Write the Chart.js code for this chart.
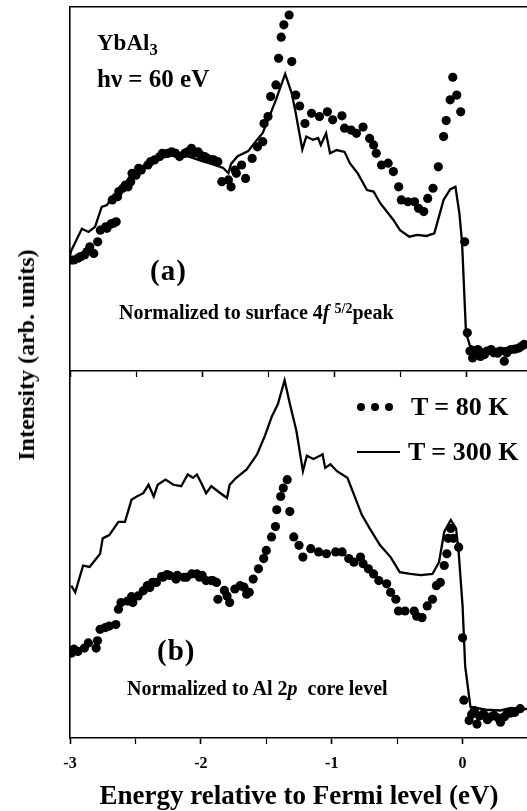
<!DOCTYPE html>
<html>
<head>
<meta charset="utf-8">
<script src="https://cdn.jsdelivr.net/npm/chart.js"></script>
<style>
  html, body { margin: 0; padding: 0; background: #fff; overflow: hidden; }
  body { width: 527px; height: 811px; position: relative;
         font-family: "Liberation Serif", "Times New Roman", serif; font-weight: bold; color: #000; }
  canvas { position: absolute; left: 0; }
  #chartA { top: 0; z-index: 2; }
  #chartB { top: 366px; z-index: 1; }
  .lbl { position: absolute; white-space: nowrap; z-index: 3; line-height: 1; }
  .dot { position: absolute; width: 8px; height: 8px; border-radius: 50%; background: #000; z-index: 3; }
</style>
</head>
<body>
<canvas id="chartA" width="540" height="380"></canvas>
<canvas id="chartB" width="540" height="445"></canvas>

<div class="lbl" style="left:97px; top:31px; font-size:23px;">YbAl<sub style="font-size:0.72em; vertical-align:-0.3em;">3</sub></div>
<div class="lbl" style="left:97px; top:66px; font-size:25px;">h&nu; = 60 eV</div>
<div class="lbl" style="left:150px; top:256px; font-size:29px; letter-spacing:1px;">(a)</div>
<div class="lbl" style="left:119px; top:302px; font-size:20px;">Normalized to surface 4<i>f</i> <sup style="font-size:0.7em; vertical-align:0.45em;">5/2</sup>peak</div>

<div class="lbl" style="left:157px; top:636px; font-size:29px; letter-spacing:1px;">(b)</div>
<div class="lbl" style="left:127px; top:678px; font-size:20px;">Normalized to Al 2<i>p</i>&nbsp; core level</div>

<div class="dot" style="left:357px; top:403px;"></div>
<div class="dot" style="left:371px; top:403px;"></div>
<div class="dot" style="left:385px; top:403px;"></div>
<div class="lbl" style="left:411px; top:394px; font-size:26px;">T = 80 K</div>
<div style="position:absolute; left:357px; top:451px; width:43px; height:2px; background:#000; z-index:3;"></div>
<div class="lbl" style="left:408px; top:439px; font-size:26px;">T = 300 K</div>

<div class="lbl" style="left:26px; top:355px; font-size:24px; transform:translate(-50%,-50%) rotate(-90deg);">Intensity (arb. units)</div>

<script>
// energy axis (eV)
const xMin = -3;
const xMax = 0.5;

// panel (a): normalized to surface 4f 5/2 peak
// T = 300 K (line)
const lineA_E = [-3.00,-2.99,-2.91,-2.86,-2.81,-2.76,-2.72,-2.67,-2.62,-2.54,-2.47,-2.39,-2.32,-2.21,-2.11,-2.01,-1.91,-1.84,-1.80,-1.78,-1.73,-1.65,-1.59,-1.54,-1.49,-1.44,-1.37,-1.32,-1.29,-1.24,-1.21,-1.16,-1.12,-1.10,-1.06,-1.03,-0.98,-0.92,-0.88,-0.82,-0.75,-0.70,-0.65,-0.60,-0.55,-0.50,-0.43,-0.37,-0.30,-0.24,-0.17,-0.12,-0.08,-0.05,-0.03,0.00,0.03,0.11,0.20,0.30,0.40,0.50];
const lineA_I = [31.7,33.1,39.1,38.2,39.6,45.1,45.6,48.4,49.3,53.9,55.8,57.7,58.5,59.3,59.0,57.8,56.7,55.8,54.4,56.9,59.0,60.4,63.2,65.4,69.9,74.5,81.6,76.3,70.9,60.9,64.4,63.5,64.0,62.1,65.3,59.8,60.7,60.2,57.1,54.3,49.7,49.3,46.1,43.8,41.5,38.7,36.9,37.4,37.1,37.8,47.0,49.9,50.6,43.3,35.4,10.5,6.9,5.9,6.0,6.3,6.5,6.6];
// T = 80 K (dots)
const dotsA_E = [-2.99,-2.97,-2.94,-2.92,-2.89,-2.87,-2.85,-2.82,-2.79,-2.77,-2.73,-2.72,-2.69,-2.68,-2.67,-2.65,-2.64,-2.63,-2.60,-2.58,-2.56,-2.54,-2.53,-2.50,-2.48,-2.46,-2.41,-2.39,-2.36,-2.32,-2.30,-2.26,-2.23,-2.20,-2.17,-2.13,-2.11,-2.08,-2.06,-2.03,-2.01,-1.98,-1.96,-1.93,-1.91,-1.88,
                 -1.85,-1.80,-1.78,-1.75,-1.74,-1.70,-1.67,-1.62,-1.58,-1.54,-1.53,-1.50,-1.48,-1.44,-1.42,-1.40,-1.38,-1.34,-1.32,-1.29,-1.26,-1.22,-1.17,-1.11,-1.05,-1.01,-0.94,-0.92,-0.87,-0.83,-0.78,-0.73,-0.70,-0.68,-0.64,-0.59,-0.55,-0.51,-0.49,-0.44,-0.39,-0.36,-0.32,-0.29,-0.25,-0.21,-0.17,-0.15,-0.12,-0.10,-0.07,-0.04,-0.01,0.01,0.03,0.05,0.06,0.09,0.11,0.14,0.16,0.19,0.21,0.24,0.26,0.29,0.31,0.34,0.37,0.40,0.42,0.44];
const dotsA_I = [30.5,30.5,31.0,31.4,31.9,32.8,34.1,32.3,35.5,38.7,39.6,39.2,40.4,47.0,40.6,41.0,47.9,49.3,50.2,51.1,50.6,52.0,54.3,53.8,55.7,55.2,56.6,57.5,58.0,58.9,59.8,59.8,60.2,59.8,58.9,59.8,60.2,61.2,59.8,60.2,59.3,58.9,58.4,58.0,58.0,57.5,
                 52.0,52.5,50.6,55.2,54.3,56.6,52.9,58.4,61.6,63.0,68.0,69.9,75.4,78.6,85.9,91.7,95.1,97.8,85.0,75.8,72.8,68.0,70.8,69.9,71.2,69.0,70.1,66.7,66.2,65.3,67.0,63.9,62.1,59.8,56.6,57.1,54.8,50.6,47.0,46.5,46.5,44.7,43.8,47.4,50.2,56.1,64.4,68.8,74.5,80.7,75.8,71.2,35.5,10.5,5.5,3.6,5.0,5.9,4.0,4.5,5.5,5.9,5.0,4.9,5.5,2.7,5.0,5.9,6.0,6.3,6.8,7.3];

// panel (b): normalized to Al 2p core level
const lineB_E = [-2.99,-2.96,-2.90,-2.85,-2.77,-2.75,-2.70,-2.63,-2.58,-2.53,-2.49,-2.44,-2.40,-2.36,-2.33,-2.27,-2.21,-2.15,-2.10,-2.06,-2.03,-1.99,-1.96,-1.92,-1.85,-1.80,-1.78,-1.73,-1.65,-1.57,-1.51,-1.46,-1.41,-1.36,-1.32,-1.27,-1.22,-1.19,-1.14,-1.09,-1.07,-1.05,-1.01,-0.96,-0.88,-0.83,-0.77,-0.71,-0.63,-0.55,-0.48,-0.40,-0.32,-0.23,-0.18,-0.14,-0.09,-0.05,-0.03,0.00,0.02,0.06,0.18,0.29,0.37,0.46,0.50];
const lineB_I = [41.5,39.7,47.0,46.6,50.2,54.4,55.3,58.9,58.9,64.9,65.8,66.7,69.0,65.8,69.0,70.4,69.0,68.6,71.8,70.9,71.8,69.0,66.7,68.6,66.7,65.4,69.0,70.9,73.2,77.3,82.4,87.4,91.1,97.5,91.1,83.7,72.7,76.9,76.0,76.9,77.3,73.6,74.6,72.7,70.9,66.3,60.8,57.1,52.5,49.3,45.2,44.7,44.4,44.7,47.9,56.2,59.4,57.1,50.7,36.0,19.5,8.5,7.7,7.5,8.2,7.9,7.9];
const dotsB_E = [-2.99,-2.97,-2.94,-2.89,-2.86,-2.80,-2.79,-2.77,-2.73,-2.70,-2.65,-2.63,-2.61,-2.56,-2.53,-2.52,-2.48,-2.44,-2.41,-2.39,-2.37,-2.34,-2.30,-2.29,-2.26,-2.24,-2.19,-2.18,-2.13,-2.11,-2.07,-2.03,-2.01,-1.99,-1.96,-1.92,-1.91,-1.88,-1.87,-1.82,-1.80,-1.78,-1.74,-1.70,-1.67,-1.65,-1.63,-1.60,
                 -1.56,-1.52,-1.50,-1.46,-1.43,-1.42,-1.39,-1.37,-1.34,-1.32,-1.29,-1.25,-1.22,-1.16,-1.10,-1.04,-0.97,-0.92,-0.87,-0.83,-0.78,-0.76,-0.72,-0.68,-0.64,-0.58,-0.55,-0.51,-0.49,-0.44,-0.37,-0.35,-0.31,-0.27,-0.23,-0.20,-0.17,-0.14,-0.12,-0.11,-0.09,-0.07,-0.03,0.00,0.01,0.05,0.07,0.09,0.11,0.13,0.16,0.19,0.21,0.24,0.27,0.29,0.32,0.34,0.37,0.40,0.44];
const dotsB_I = [23.1,24.2,23.6,24.5,25.9,24.5,26.5,29.6,30.1,30.5,30.9,35.1,36.9,37.3,38.5,36.9,38.7,40.1,41.5,41.0,42.4,42.4,44.0,43.8,44.5,44.3,43.3,44.3,43.8,43.8,44.7,44.7,43.8,44.3,42.9,42.9,42.9,42.4,37.8,40.2,38.7,36.9,40.6,41.5,41.1,39.2,39.7,43.3,
                 46.1,48.9,51.1,54.8,57.6,62.2,65.8,68.1,70.4,61.7,54.8,52.5,49.3,51.6,50.7,50.2,50.7,50.7,48.9,47.9,49.3,47.5,46.1,44.7,42.9,42.0,39.7,37.8,34.6,34.6,34.6,33.2,32.8,36.0,37.8,41.5,42.4,47.0,50.2,54.4,57.1,54.4,52.0,27.3,10.3,4.8,6.5,7.5,3.8,6.0,6.6,5.0,5.7,6.2,5.5,4.3,5.8,6.6,6.8,7.0,8.0];

// tick marks every 0.5 eV, labels only on whole numbers
const tickValues = [-3, -2.5, -2, -1.5, -1, -0.5, 0, 0.5];

const pts = (xs, ys) => xs.map((x, i) => ({ x: x, y: ys[i] }));
const serif = '"Liberation Serif", "Times New Roman", serif';

function panel(canvasId, lineE, lineI, dotE, dotI, bottomPanel) {
    const ctx = document.getElementById(canvasId).getContext('2d');
    const scales = {
        x: {
            type: 'linear', min: xMin, max: xMax, position: 'bottom',
            afterBuildTicks: axis => { axis.ticks = tickValues.map(v => ({ value: v })); },
            grid: { drawOnChartArea: false, drawTicks: true, tickLength: 6, tickColor: '#000',
                    tickWidth: c => (Number.isInteger(c.tick.value) ? 1.6 : 1.2) },
            border: { display: true, color: '#000', width: 1.6 },
            ticks: {
                display: bottomPanel, color: '#000', padding: 12, maxRotation: 0, autoSkip: false,
                font: { family: serif, size: 16, weight: 'bold', lineHeight: 1 },
                callback: v => (Number.isInteger(v) ? String(v) : '')
            },
            title: {
                display: bottomPanel, text: 'Energy relative to Fermi level (eV)', color: '#000',
                font: { family: serif, size: 27, weight: 'bold', lineHeight: 1 }, padding: { top: 0, bottom: 0 }
            }
        },
        y: {
            min: 0, max: 100,
            grid: { drawOnChartArea: false, drawTicks: false },
            border: { display: true, color: '#000', width: 1.6 },
            ticks: { display: false }
        }
    };
    if (!bottomPanel) {
        scales.xTop = {
            type: 'linear', min: xMin, max: xMax, position: 'top',
            grid: { drawOnChartArea: false, drawTicks: false },
            border: { display: true, color: '#000', width: 1.6 },
            ticks: { display: false }
        };
    }
    return new Chart(ctx, {
        type: 'scatter',
        data: {
            datasets: [
                {
                    label: 'T = 300 K',
                    data: pts(lineE, lineI),
                    showLine: true, borderColor: '#000', borderWidth: 2.3,
                    pointRadius: 0, tension: 0
                },
                {
                    label: 'T = 80 K',
                    data: pts(dotE, dotI),
                    pointRadius: 4.6, pointBackgroundColor: '#000', pointBorderWidth: 0,
                    showLine: false
                }
            ]
        },
        options: {
            responsive: false,
            animation: false,
            devicePixelRatio: 1,
            events: [],
            layout: { padding: bottomPanel ? { top: 5, left: 70, right: 8, bottom: 0 }
                                           : { top: 7, left: 70, right: 8, bottom: 3 } },
            plugins: { legend: { display: false }, tooltip: { enabled: false } },
            scales: scales
        }
    });
}

panel('chartA', lineA_E, lineA_I, dotsA_E, dotsA_I, false);
panel('chartB', lineB_E, lineB_I, dotsB_E, dotsB_I, true);
</script>
</body>
</html>
